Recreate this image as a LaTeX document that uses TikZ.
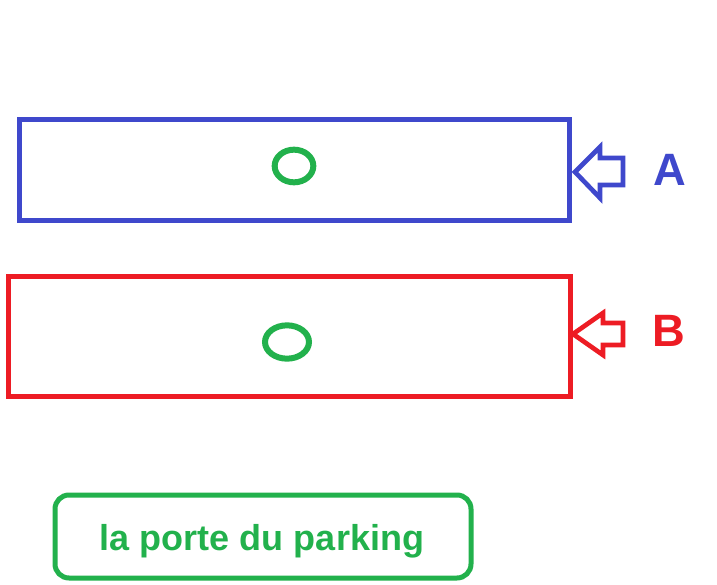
\documentclass[tikz,border=0pt]{standalone}
\usepackage{fontspec}
\setmainfont{Liberation Sans}
\usepackage{tikz}
\usetikzlibrary{shapes.geometric,calc}
\definecolor{ZoneBlue}{HTML}{3F48CC}
\definecolor{ZoneRed}{HTML}{ED1C24}
\definecolor{GateGreen}{HTML}{22B14C}

\begin{document}
\begin{tikzpicture}[x=0.75pt,y=-0.75pt,
    zone/.style={draw,line width=3.75pt,inner sep=0pt},
    spot/.style={draw=GateGreen,ellipse,line width=4.5pt,inner sep=0pt},
    pointer/.style={line width=3.5pt,line join=miter},
    tag/.style={font=\bfseries\fontsize{34}{34}\selectfont,inner sep=0pt}]
    \useasboundingbox (0,0) rectangle (717,585);
    \node[zone,draw=ZoneBlue,minimum width=413pt,minimum height=75.75pt] (zoneA) at (294.5,169.5) {};
    \node[zone,draw=ZoneRed,minimum width=421.5pt,minimum height=90pt] (zoneB) at (289,336) {};
    \node[spot,minimum width=29pt,minimum height=24.5pt] (spotA) at (294,166) {};
    \node[spot,minimum width=33pt,minimum height=25pt] (spotB) at (287,342) {};
    % arrows pointing at the zones
    \draw[pointer,draw=ZoneBlue] (575,172) -- (600,147) -- (600,158) -- (623,158)
      -- (623,185) -- (600,185) -- (600,198) -- cycle;
    \draw[pointer,draw=ZoneRed] (573,334) -- (603,313) -- (603,323) -- (623,323)
      -- (623,345) -- (603,345) -- (603,355) -- cycle;
    \node[tag,text=ZoneBlue] (labelA) at (670,170) {A};
    \node[tag,text=ZoneRed] (labelB) at (669,331) {B};
    \node[draw=GateGreen,line width=3.75pt,rounded corners=10.5pt,minimum width=312pt,
      minimum height=62.25pt] (gate) at (263,536.5) {};
    \node[font=\bfseries\fontsize{27}{27}\selectfont,text=GateGreen,inner sep=0pt]
      (gatetext) at (262,541) {la porte du parking};
\end{tikzpicture}
\end{document}
